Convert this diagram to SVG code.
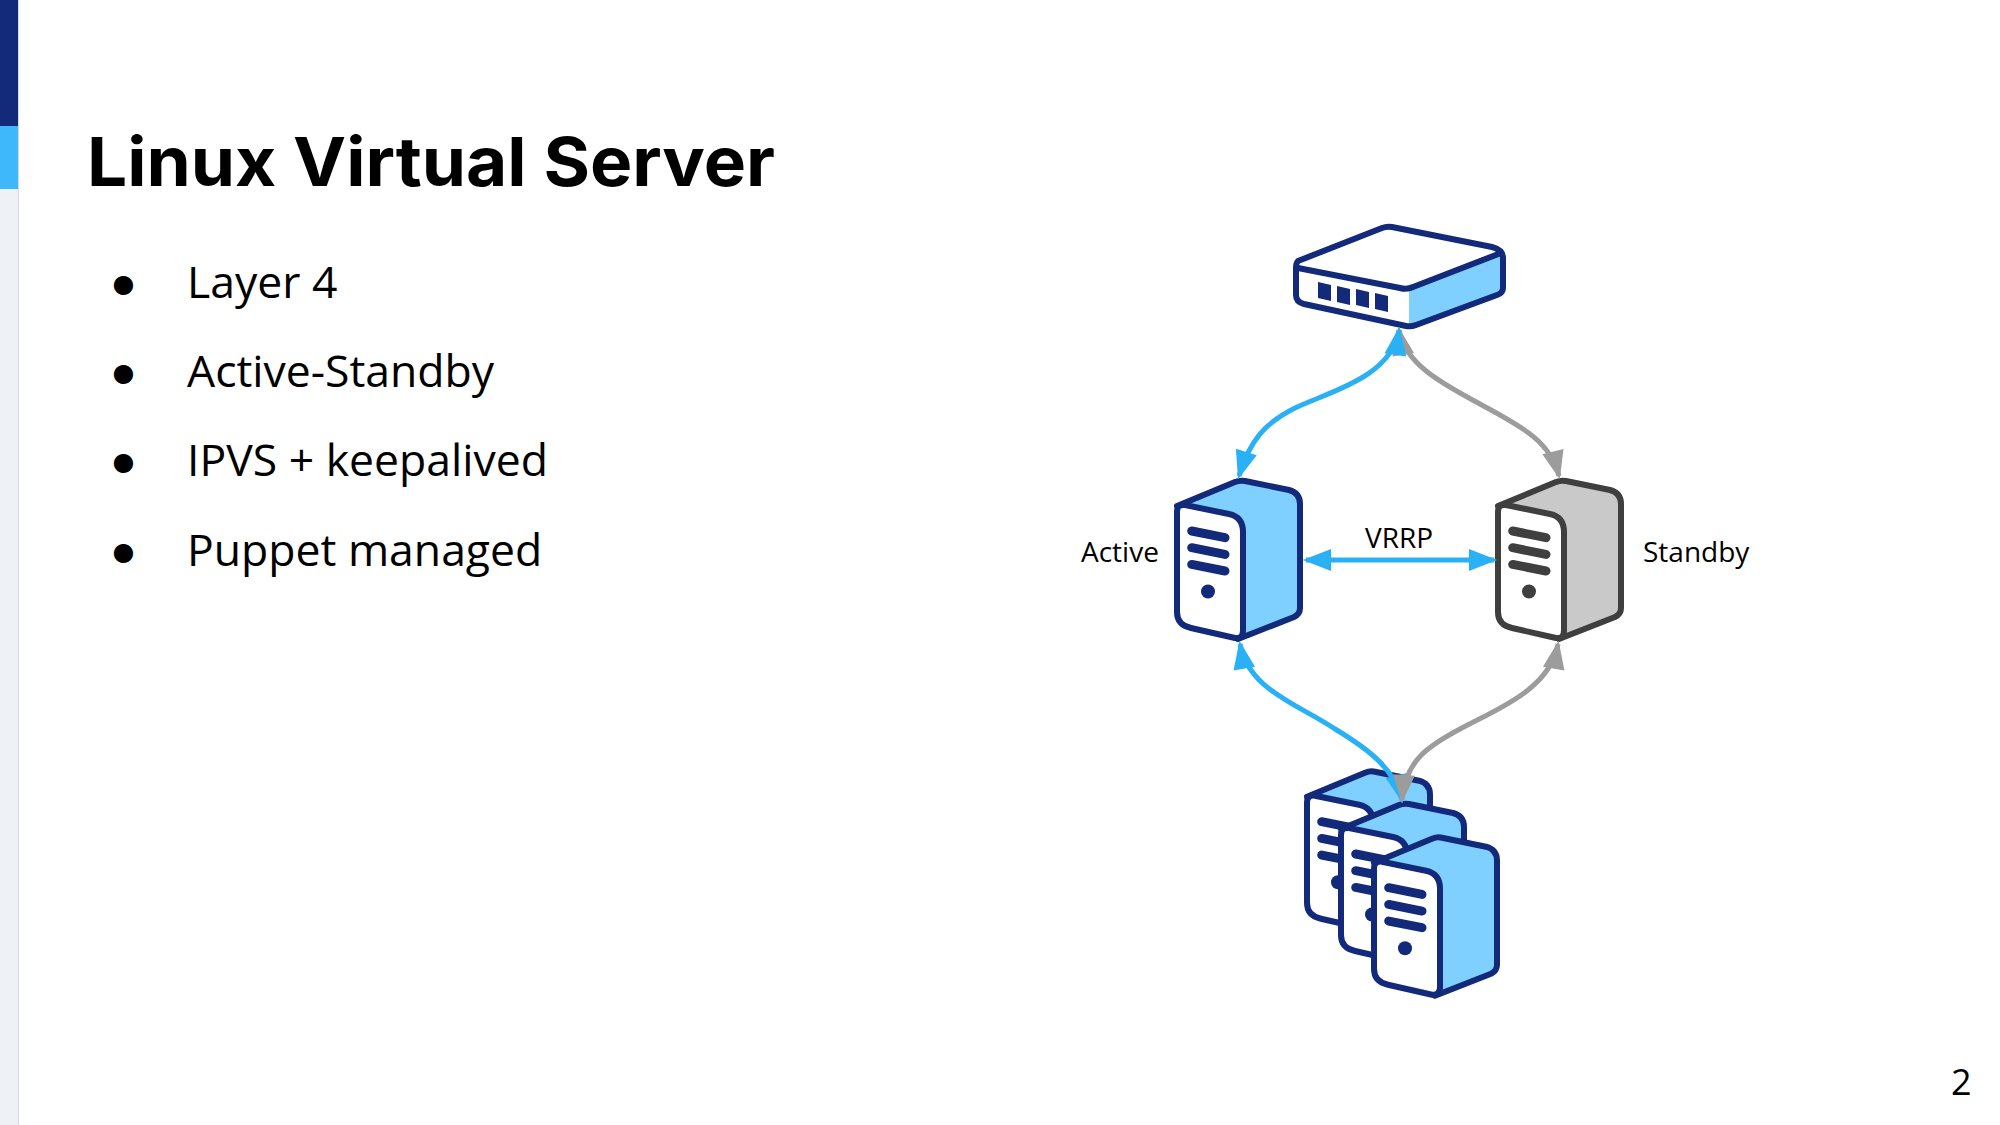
<svg xmlns="http://www.w3.org/2000/svg" width="2000" height="1125" viewBox="0 0 2000 1125">
<style>
.body{font-family:"Open Sans","Liberation Sans",sans-serif;font-size:44.5px;fill:#000}
.lab{font-family:"Open Sans","Liberation Sans",sans-serif;font-size:28px;fill:#000}
.title{font-family:Inter,"Liberation Sans",sans-serif;font-weight:700;font-size:68px;fill:#000}
.conn{fill:none;stroke-width:5}
.conn.blue{stroke:#29b0f5}
.conn.gray{stroke:#9c9c9c}
.navy{--l:#13297a;--f:#80d0ff}
.dark{--l:#3f3f3f;--f:#c9c9c9}
</style>
<defs>
<marker id="ab" markerUnits="userSpaceOnUse" markerWidth="30" markerHeight="24" viewBox="0 0 26 22" refX="23" refY="11" orient="auto-start-reverse"><path d="M0,1 L26,11 L0,21 Z" fill="#29b0f5"/></marker>
<marker id="ag" markerUnits="userSpaceOnUse" markerWidth="30" markerHeight="24" viewBox="0 0 26 22" refX="23" refY="11" orient="auto-start-reverse"><path d="M0,1 L26,11 L0,21 Z" fill="#9c9c9c"/></marker>
<g id="srv">
<path d="M118,46 L176,22 Q181,20 186,21 L230,30 Q241,33 241,44 L241,148 Q241,154 235,157 L179,179 Z" fill="var(--f)" stroke="var(--l)" stroke-width="6" stroke-linejoin="round"/>
<path d="M118,52 Q118,44 126,45 L170,54 Q184,57 184,72 L184,170 Q184,179 176,178 L132,168 Q118,165 118,152 Z" fill="#fff" stroke="var(--l)" stroke-width="6" stroke-linejoin="round"/>
<path d="M132.700,71 L166,77.700 M132.700,87.700 L166,94.400 M132.700,104.400 L166,111" stroke="var(--l)" stroke-width="9" stroke-linecap="round" fill="none"/>
<circle cx="149" cy="131.500" r="7" fill="var(--l)"/>
</g>
</defs>
<rect width="2000" height="1125" fill="#fff"/>
<g id="sidebar">
<rect x="0" y="0" width="18" height="1125" fill="#eef2f6"/>
<rect x="18" y="0" width="1" height="1125" fill="#d5dae0"/>
<rect x="0" y="0" width="18" height="126" fill="#13297a"/>
<rect x="0" y="126" width="18" height="63" fill="#3fb8fb"/>
</g>
<text class="title" x="87" y="186" textLength="688" lengthAdjust="spacingAndGlyphs">Linux Virtual Server</text>
<g id="bullets" class="body">
<text x="110" y="298">●</text><text x="187" y="298">Layer 4</text>
<text x="110" y="387">●</text><text x="187" y="387">Active-Standby</text>
<text x="110" y="476">●</text><text x="187" y="476">IPVS + keepalived</text>
<text x="110" y="566">●</text><text x="187" y="566">Puppet managed</text>
</g>
<text class="body" x="1951" y="1095" style="font-size:36px">2</text>
<g id="switch" stroke-linejoin="round">
<g transform="translate(0,210)">
<path d="M1296,52 L1382,19 Q1387,17 1392,18 L1495,39 L1499,42 L1499,78 L1410,113 L1296,90 Z" fill="#fff"/>
<path d="M1409,78 L1501,44 L1501,78 Q1500,82 1496,84 L1412,115 L1409,114 Z" fill="#80d0ff"/>
<path d="M1298,51 L1382,18 Q1387,16 1392,17 L1492,37 Q1503,40 1503,48 L1503,78 Q1503,83 1497,85 L1416,115 Q1411,117 1406,116 L1304,94 Q1296,92 1296,85 L1296,58 Q1296,53 1298,51 Z" fill="none" stroke="#13297a" stroke-width="6"/>
<path d="M1298,58 L1400,78 Q1407,80 1413,77 L1501,43" fill="none" stroke="#13297a" stroke-width="6"/>
</g>
<g fill="#13297a"><path d="M1318,282 l13,3 v16 l-13,-3 z"/><path d="M1337,286 l13,3 v16 l-13,-3 z"/><path d="M1356,289 l13,3 v16 l-13,-3 z"/><path d="M1375,293 l13,3 v16 l-13,-3 z"/></g>
</g>
<g id="active" class="navy" transform="translate(1059,460)"><use href="#srv"/></g>
<g id="standby" class="dark" transform="translate(1380,460)"><use href="#srv"/></g>
<g id="pool" class="navy">
<g id="pool-1" transform="translate(1189,750.700)"><use href="#srv"/></g>
<g id="pool-2" transform="translate(1223,783)"><use href="#srv"/></g>
<g id="pool-3" transform="translate(1256,816.700)"><use href="#srv"/></g>
</g>
<g id="connectors">
<path class="conn gray" d="M1399,330 C1405,365 1445,385 1480,404 C1520,426 1550,440 1559,476" marker-start="url(#ag)" marker-end="url(#ag)"/>
<path class="conn blue" d="M1399,330 C1392,378 1325,393 1295,408 C1265,423 1250,440 1239,476" marker-start="url(#ab)" marker-end="url(#ab)"/>
<path class="conn blue" d="M1240,644 C1248,690 1300,705 1335,729 C1370,750 1395,770 1402,800" marker-start="url(#ab)" marker-end="url(#ab)"/>
<path class="conn gray" d="M1558,644 C1550,690 1495,710 1460,729 C1430,745 1405,760 1402,800" marker-start="url(#ag)" marker-end="url(#ag)"/>
<path class="conn blue" d="M1306,560 L1494,560" marker-start="url(#ab)" marker-end="url(#ab)"/>
</g>
<text class="lab" x="1081" y="562">Active</text>
<text class="lab" x="1365" y="548">VRRP</text>
<text class="lab" x="1643" y="562">Standby</text>
</svg>
